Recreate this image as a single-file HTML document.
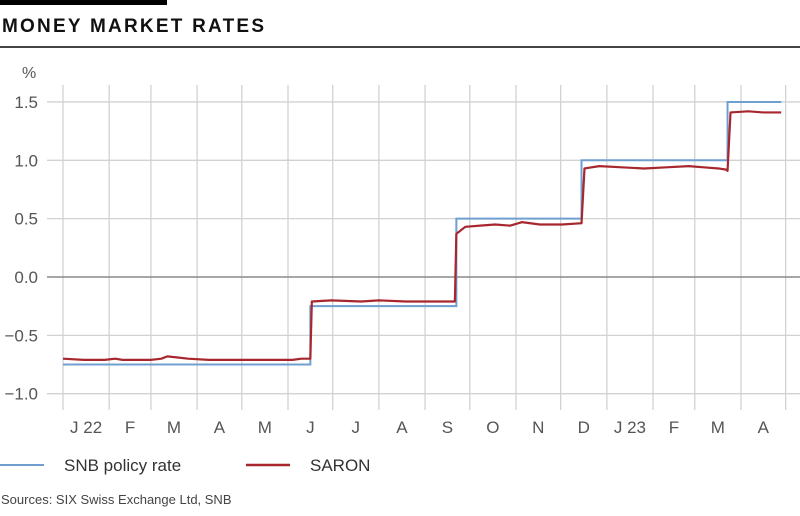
<!DOCTYPE html>
<html><head><meta charset="utf-8"><style>
body{margin:0;background:#fff;width:800px;height:511px;overflow:hidden;font-family:"Liberation Sans",sans-serif}
</style></head><body>
<svg width="800" height="511" viewBox="0 0 800 511">
<rect x="0" y="0" width="167" height="5" fill="#000"/>
<text x="2" y="32" font-size="19" font-weight="bold" fill="#111" textLength="262" lengthAdjust="spacing">MONEY MARKET RATES</text>
<rect x="0" y="46" width="800" height="2" fill="#444"/>
<text x="22" y="78" font-size="16" fill="#555">%</text>
<g id="grid"></g>
<g id="series"></g>
<g id="xlabels"></g>
<g id="ylabels"></g>
<line x1="0" y1="465" x2="44" y2="465" stroke="#6f9fcf" stroke-width="2"/>
<text x="64" y="471" font-size="17" fill="#333">SNB policy rate</text>
<line x1="246" y1="465" x2="290" y2="465" stroke="#a8262e" stroke-width="2.5"/>
<text x="310" y="471" font-size="17" fill="#333">SARON</text>
<text x="1" y="504" font-size="13" fill="#444">Sources: SIX Swiss Exchange Ltd, SNB</text>
</svg>
<script>
const yTicks=[1.5,1.0,0.5,0.0,-0.5,-1.0];
const yTickLabels=["1.5","1.0","0.5","0.0","\u22120.5","\u22121.0"];
const monthStarts=[0,31,59,90,120,151,181,212,243,273,304,334,365,396,424,455,485];
const monthLabels=["J 22","F","M","A","M","J","J","A","S","O","N","D","J 23","F","M","A"];
const policyDays=[0,166,166,264,264,348,348,446,446,482];
const policyVals=[-0.75,-0.75,-0.25,-0.25,0.5,0.5,1.0,1.0,1.5,1.5];
const saronDays=[0,14,28,35,40,50,59,66,70,77,84,98,112,126,140,154,160,166,167,180,200,212,230,250,263,264,266,270,280,290,300,308,320,335,347,348,350,360,375,390,405,420,430,440,445,446,448,460,470,482];
const saronVals=[-0.70,-0.71,-0.71,-0.70,-0.71,-0.71,-0.71,-0.70,-0.68,-0.69,-0.70,-0.71,-0.71,-0.71,-0.71,-0.71,-0.70,-0.70,-0.21,-0.20,-0.21,-0.20,-0.21,-0.21,-0.21,0.37,0.39,0.43,0.44,0.45,0.44,0.47,0.45,0.45,0.46,0.46,0.93,0.95,0.94,0.93,0.94,0.95,0.94,0.93,0.92,0.91,1.41,1.42,1.41,1.41];
const NS="http://www.w3.org/2000/svg";
const x=d=>63+d*1.49;
const y=v=>277-v*116.7;
function mk(tag,attrs,parent){const e=document.createElementNS(NS,tag);for(const k in attrs)e.setAttribute(k,attrs[k]);parent.appendChild(e);return e;}
const grid=document.getElementById('grid');
monthStarts.forEach(d=>{
 const l=mk('line',{x1:x(d),x2:x(d),y1:85,y2:410,stroke:'#d2d2d2','stroke-width':1.3},grid);
 
 
});
yTicks.forEach((v,i)=>{
 const l=mk('line',{x1:47,x2:800,y1:y(v),y2:y(v),stroke:v===0?'#8a8a8a':'#d2d2d2','stroke-width':v===0?1.5:1.3},grid);
 
 
 const t=mk('text',{x:38,y:y(v)+6,'text-anchor':'end','font-size':17,fill:'#555'},document.getElementById('ylabels'));
 t.textContent=yTickLabels[i];
 
 
});
monthLabels.forEach((m,i)=>{
 const t=mk('text',{x:(x(monthStarts[i])+x(monthStarts[i+1]))/2,y:433,'text-anchor':'middle','font-size':17,fill:'#555'},document.getElementById('xlabels'));
 t.textContent=m;
 
 
});
const ser=document.getElementById('series');
const pp=mk('polyline',{points:policyDays.map((d,i)=>x(d)+','+y(policyVals[i])).join(' '),fill:'none',stroke:'#6f9fcf','stroke-width':2},ser);


const sp=mk('polyline',{points:saronDays.map((d,i)=>x(d)+','+y(saronVals[i])).join(' '),fill:'none',stroke:'#a8262e','stroke-width':2.2,'stroke-linejoin':'round'},ser);


</script>
</body></html>
